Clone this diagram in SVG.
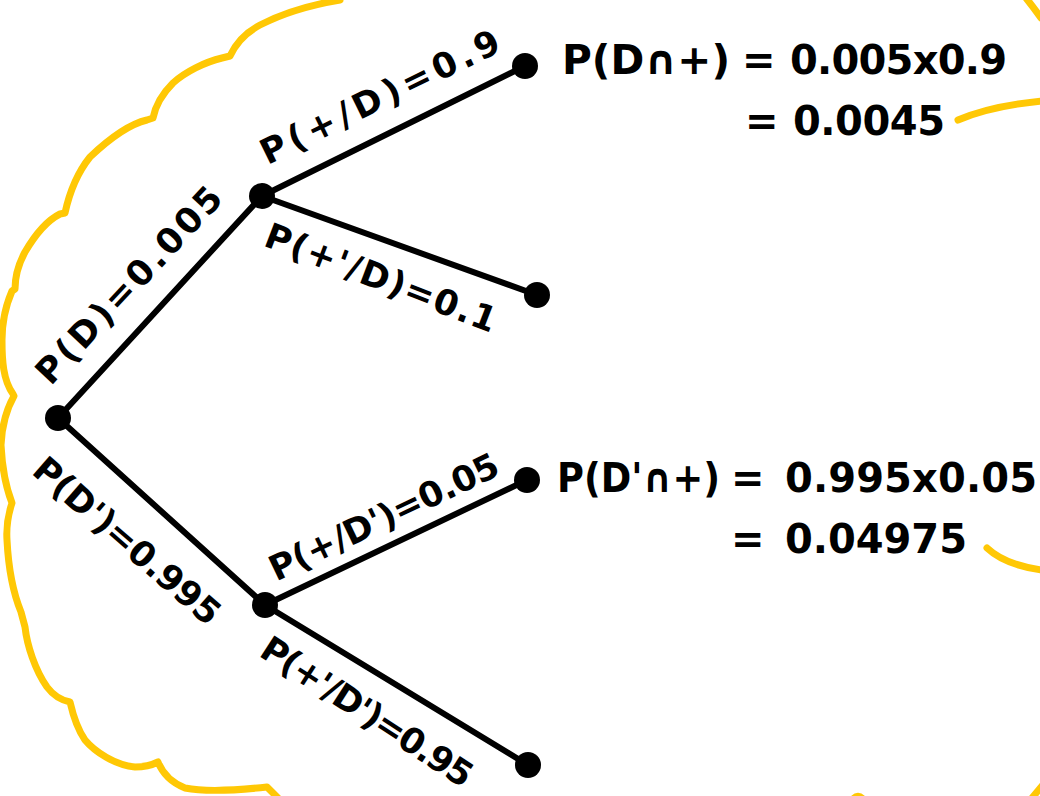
<svg xmlns="http://www.w3.org/2000/svg" width="1040" height="796" viewBox="0 0 1040 796">
<style>
.cloud{fill:none;stroke:#FFC805;stroke-width:7;stroke-linecap:round;stroke-linejoin:round}
.edge{stroke:#000;stroke-width:6;stroke-linecap:round}
.dot{fill:#000}
.lbl{font-family:"DejaVu Sans",sans-serif;font-weight:bold;font-size:35px;fill:#000}
.big{font-family:"DejaVu Sans",sans-serif;font-weight:bold;font-size:40px;fill:#000}
</style>
<rect width="1040" height="796" fill="#fff"/>
<g id="cloud">
<path class="cloud" d="M340,0 C310,5 285,12 260,25 C245,33 235,45 230,56 L222,58 C205,62 185,72 173,83 C163,93 156,103 153,118 L147,120 C130,124 110,138 90,157 C78,172 70,190 65,213 L60,214 C48,220 35,235 25,252 C18,265 15,278 15,289 L12,291 C6,305 2,320 2,340 C2,360 3,380 13,394 L14,396 C6,410 2,425 1,445 C2,465 5,485 12,503 C8,515 6,525 7,540 C8,560 12,590 21,612 L25,627 C27,645 35,670 47,687 C53,695 60,700 70,702 C73,715 78,730 85,740 C95,752 115,765 135,767 C145,767 152,765 158,762 C162,772 170,782 185,788 C205,792 240,790 267,787 L278,798"/>
<path class="cloud" d="M1026,-2 Q1034,8 1041,18"/>
<path class="cloud" d="M958,120 Q990,106 1042,101"/>
<path class="cloud" d="M987,548 Q1005,565 1042,570"/>
<path class="cloud" d="M1032,798 L1042,786"/>
<path class="cloud" d="M853,799 Q858,794 863,799"/>
</g>
<g id="connectors">
<line class="edge" x1="58" y1="418" x2="262" y2="196"/>
<line class="edge" x1="58" y1="418" x2="265" y2="605"/>
<line class="edge" x1="262" y1="196" x2="525" y2="66"/>
<line class="edge" x1="262" y1="196" x2="537" y2="295"/>
<line class="edge" x1="265" y1="605" x2="527" y2="480"/>
<line class="edge" x1="265" y1="605" x2="528" y2="765"/>
<g transform="translate(129,285) rotate(-47)"><text class="lbl" x="0" y="12" text-anchor="middle" textLength="255" lengthAdjust="spacing">P(D)=0.005</text></g>
<g transform="translate(380,97) rotate(-26)"><text class="lbl" x="0" y="12" text-anchor="middle" textLength="262" lengthAdjust="spacing">P(+/D)=0.9</text></g>
<g transform="translate(381,278) rotate(21)"><text class="lbl" x="0" y="12" text-anchor="middle" textLength="245" lengthAdjust="spacing">P(+'/D)=0.1</text></g>
<g transform="translate(127,541) rotate(41)"><text class="lbl" x="0" y="12" text-anchor="middle" textLength="235" lengthAdjust="spacing">P(D')=0.995</text></g>
<g transform="translate(384,517) rotate(-25.5)"><text class="lbl" x="0" y="12" text-anchor="middle" textLength="250" lengthAdjust="spacing">P(+/D')=0.05</text></g>
<g transform="translate(367,712) rotate(33)"><text class="lbl" x="0" y="12" text-anchor="middle" textLength="245" lengthAdjust="spacing">P(+'/D')=0.95</text></g>
</g>
<g id="root"><circle class="dot" cx="58" cy="418" r="13"/></g>
<g id="nodeD"><circle class="dot" cx="262" cy="196" r="13"/></g>
<g id="nodeDprime"><circle class="dot" cx="265" cy="605" r="13"/></g>
<g id="leafDpos"><circle class="dot" cx="525" cy="66" r="13"/>
<text class="big" x="562" y="74" textLength="168" lengthAdjust="spacingAndGlyphs">P(D∩+)</text>
<text class="big" x="742" y="74">=</text>
<text class="big" x="790" y="74" textLength="217" lengthAdjust="spacing">0.005x0.9</text>
<text class="big" x="745" y="135">=</text>
<text class="big" x="793" y="135" textLength="152" lengthAdjust="spacing">0.0045</text>
</g>
<g id="leafDneg"><circle class="dot" cx="537" cy="295" r="13"/></g>
<g id="leafDprimePos"><circle class="dot" cx="527" cy="480" r="13"/>
<text class="big" x="557" y="492" textLength="163" lengthAdjust="spacingAndGlyphs">P(D'∩+)</text>
<text class="big" x="731" y="492">=</text>
<text class="big" x="785" y="492" textLength="252" lengthAdjust="spacing">0.995x0.05</text>
<text class="big" x="731" y="553">=</text>
<text class="big" x="785" y="553" textLength="182" lengthAdjust="spacing">0.04975</text>
</g>
<g id="leafDprimeNeg"><circle class="dot" cx="528" cy="765" r="13"/></g>
</svg>
